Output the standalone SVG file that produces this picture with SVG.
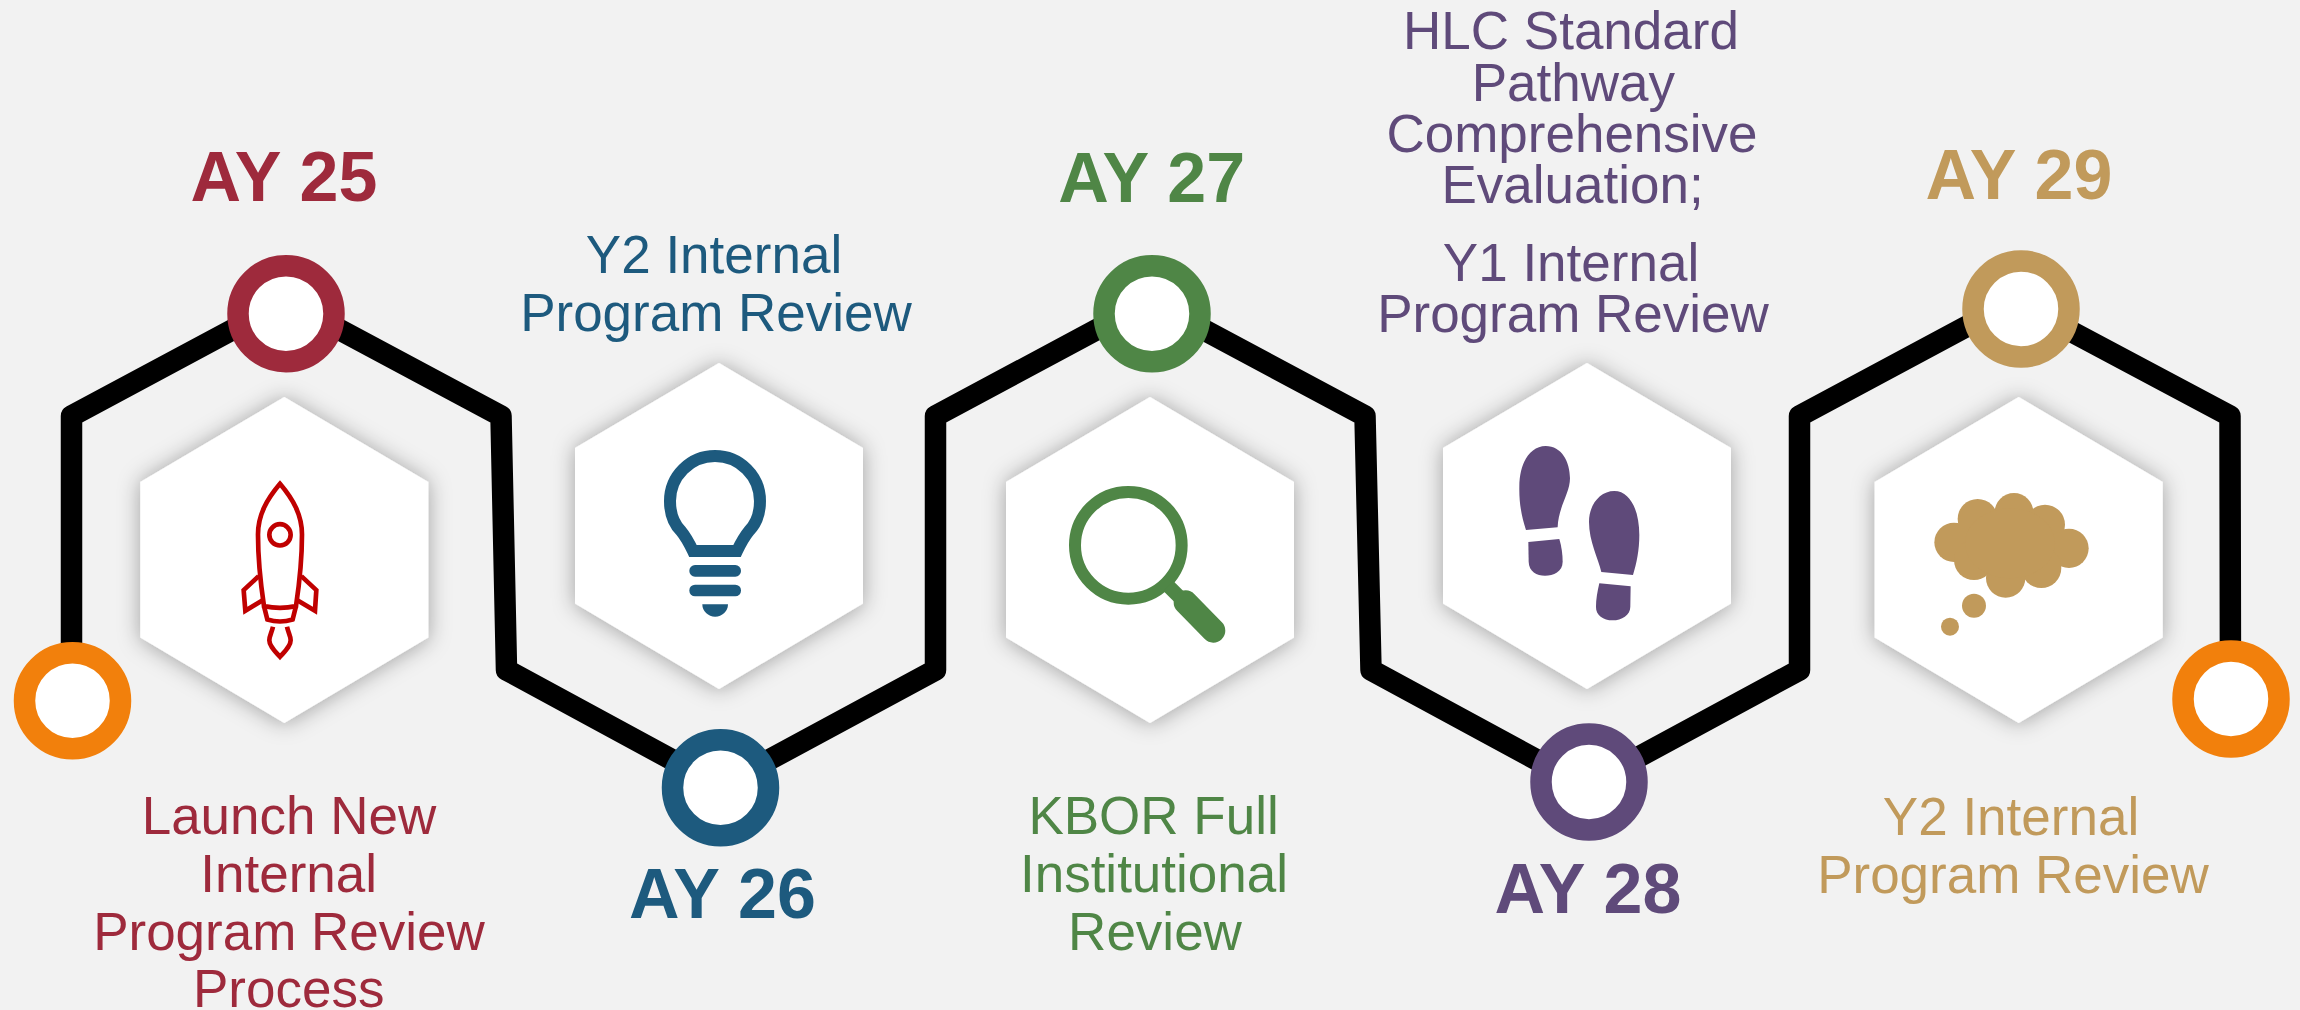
<svg xmlns="http://www.w3.org/2000/svg" width="2300" height="1010" viewBox="0 0 2300 1010">
<style>
text{font-family:"Liberation Sans",Arial,sans-serif;text-anchor:middle}
.l{font-size:53px}.h{font-size:70px;font-weight:700}
.ln{fill:none;stroke:#000;stroke-width:21.500;stroke-linejoin:round;stroke-linecap:round}
.ring{fill:#fff;stroke-width:21.500}
.hex{fill:#fff;filter:url(#s)}
.red{fill:#9e2a3c}.blue{fill:#1d5a7e}.green{fill:#4f8646}.purple{fill:#5f4a7a}.gold{fill:#c19a5b}
</style>
<defs>
<filter id="s" x="-25%" y="-25%" width="150%" height="150%"><feDropShadow dx="0" dy="1" stdDeviation="11" flood-color="#000" flood-opacity=".34"/></filter>
<polygon id="hx" points="0,-163 144,-78 144,77.500 0,163 -144,77.500 -144,-78"/>
</defs>
<rect width="2300" height="1010" fill="#f2f2f2"/>
<g id="connectors">
<path class="ln" d="M71.500 701V416L286 301L501 416L506.500 670L720.500 786L935.500 670V416L1150 301L1365 416L1371 670L1585 786L1799.500 670V416L2014 301L2230 416L2230.500 700"/>
</g>
<g id="hex1"><use href="#hx" class="hex" x="284.300" y="560"/>
<g transform="translate(180 449.500) scale(.3333)" fill="none" stroke="#c00000" stroke-width="14">
<path d="M300 103C262 148 234 195 234 255C234 310 240 390 252 470Q300 480 348 470C360 390 366 310 366 255C366 195 338 148 300 103Z"/>
<path d="M252 470L262 510Q300 522 338 510L348 470"/>
<circle cx="300" cy="256" r="32"/>
<path d="M236 380L191 422L196 484L248 452M364 380L409 422L405 484L352 452"/>
<path d="M279 532C275 550 268 560 268 572C268 590 285 605 300 622C315 605 332 590 332 572C332 560 325 550 321 532"/>
</g></g>
<g id="hex2"><use href="#hx" class="hex" x="719" y="526"/>
<g transform="translate(620 430) scale(.3333)" fill="#1d5a7e">
<path d="M219 363C207 338 197 320 183 303C160 280 150 250 150 213A135 135 0 1 1 420 213C420 250 410 280 387 303C373 320 363 338 351 363Z" fill="none" stroke="#1d5a7e" stroke-width="36"/>
<rect x="208" y="405" width="155" height="35" rx="17"/><rect x="208" y="464" width="155" height="35" rx="17"/>
<path d="M247 523H324A38.500 37 0 0 1 247 523Z"/>
</g></g>
<g id="hex3"><use href="#hx" class="hex" x="1150" y="560"/>
<g transform="translate(1040 460) scale(.3333)">
<circle cx="265" cy="256" r="160" fill="none" stroke="#4f8646" stroke-width="36"/>
<path d="M385 378L440 433" stroke="#4f8646" stroke-width="42" fill="none"/>
<path d="M437 427L520 512" stroke="#4f8646" stroke-width="72" stroke-linecap="round" fill="none"/>
</g></g>
<g id="hex4"><use href="#hx" class="hex" x="1587" y="526"/>
<g transform="translate(1480 430) scale(.3333)" fill="#5f4a7a">
<path d="M138 300C125 260 117 220 118 170C118 100 150 48 197 48C245 48 270 95 270 145C270 190 235 230 233 292Z"/>
<path d="M145 336L238 327C245 350 248 375 248 395C248 425 220 437 195 437C170 437 147 425 146 395Z"/>
<path d="M364 426C355 385 327 335 327 275C327 225 360 183 403 183C450 183 478 240 478 315C478 360 470 400 459 435Z"/>
<path d="M358 460L452 469L451 530C451 555 425 571 398 571C370 571 347 555 348 530C348 510 352 485 358 460Z"/>
</g></g>
<g id="hex5"><use href="#hx" class="hex" x="2018.700" y="560"/>
<g transform="translate(1900 470) scale(.3333)" fill="#c19a5b">
<circle cx="162" cy="217" r="59"/><circle cx="233" cy="147" r="60"/><circle cx="342" cy="127" r="58"/><circle cx="435" cy="164" r="60"/><circle cx="507" cy="235" r="59"/><circle cx="424" cy="294" r="60"/><circle cx="317" cy="324" r="59"/><circle cx="222" cy="270" r="60"/><ellipse cx="330" cy="220" rx="135" ry="105"/>
<circle cx="222" cy="407" r="36"/><circle cx="150" cy="470" r="27"/>
</g></g>
<g id="n0"><circle class="ring" cx="72.500" cy="700.700" r="48" stroke="#f2800c"/>
<text class="l red"><tspan x="289" y="834">Launch New</tspan><tspan x="288.700" y="892">Internal</tspan><tspan x="289" y="949.500">Program Review</tspan><tspan x="288.700" y="1007">Process</tspan></text></g>
<g id="n1"><circle class="ring" cx="286" cy="313.700" r="48" stroke="#9e2a3c"/><text class="h red" x="284" y="201">AY 25</text></g>
<g id="n2"><circle class="ring" cx="720.500" cy="787.700" r="48" stroke="#1d5a7e"/><text class="h blue" x="722.500" y="917.700">AY 26</text>
<text class="l blue"><tspan x="714" y="273">Y2 Internal</tspan><tspan x="716" y="331">Program Review</tspan></text></g>
<g id="n3"><circle class="ring" cx="1152" cy="313.700" r="48" stroke="#4f8646"/><text class="h green" x="1151.700" y="201.500">AY 27</text>
<text class="l green"><tspan x="1153.600" y="834">KBOR Full</tspan><tspan x="1154" y="892">Institutional</tspan><tspan x="1155" y="949.500">Review</tspan></text></g>
<g id="n4"><circle class="ring" cx="1589" cy="782" r="48" stroke="#5f4a7a"/><text class="h purple" x="1588" y="912.700">AY 28</text>
<text class="l purple"><tspan x="1571" y="49">HLC Standard</tspan><tspan x="1573.300" y="100.500">Pathway</tspan><tspan x="1572" y="152">Comprehensive</tspan><tspan x="1572.600" y="203">Evaluation;</tspan><tspan x="1571" y="281">Y1 Internal</tspan><tspan x="1573" y="332">Program Review</tspan></text></g>
<g id="n5"><circle class="ring" cx="2021" cy="309" r="48" stroke="#c19a5b"/><text class="h gold" x="2019" y="199">AY 29</text>
<text class="l gold"><tspan x="2011" y="834.500">Y2 Internal</tspan><tspan x="2013" y="892.500">Program Review</tspan></text></g>
<g id="n6"><circle class="ring" cx="2231" cy="699" r="48" stroke="#f2800c"/></g>
</svg>
